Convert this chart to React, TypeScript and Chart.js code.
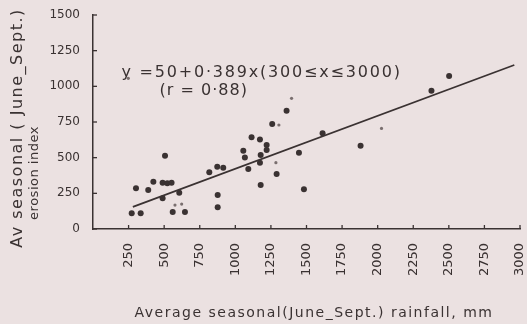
import React, { useEffect, useRef } from 'react';
import { Chart, registerables } from 'chart.js';

Chart.register(...registerables);

// ---- data ----
const xTickValues = [250, 500, 750, 1000, 1250, 1500, 1750, 2000, 2250, 2500, 2750, 3000];
const yTickValues = [0, 250, 500, 750, 1000, 1250, 1500];

const rainfall = [
  272, 335, 302, 388, 424, 506, 489, 522, 552, 489, 606, 560, 646,
  817, 873, 915, 876, 876, 1056, 1067, 1091, 1114, 1173, 1178, 1173, 1178,
  1220, 1220, 1259, 1290, 1360, 1447, 1482, 1613, 1880, 2378, 2502,
];
const erosion = [
  110, 110, 285, 273, 331, 514, 324, 320, 324, 215, 254, 119, 119,
  397, 437, 430, 238, 152, 549, 502, 420, 643, 628, 519, 465, 308,
  589, 554, 736, 385, 829, 535, 278, 671, 584, 969, 1072,
];

const faintRainfall = [248, 576, 623, 1306, 1395, 1285, 2027];
const faintErosion = [1056, 168, 175, 729, 916, 465, 705];

const lineRainfall = [280, 2960];
const lineErosion = [155, 1150];

const equationText = 'y =50+0·389x(300≤x≤3000)';
const rText = '(r = 0·88)';
const xTitle = 'Average seasonal(June_Sept.) rainfall, mm';
const yTitleLine1 = 'Av seasonal ( June_Sept.)';
const yTitleLine2 = 'erosion index';

const INK = '#3a3232';
const BG = '#ebe1e1';
const FONT = '"DejaVu Sans", sans-serif';

const decorPlugin = {
  id: 'decor',
  afterDraw(chart: any) {
    const { ctx, chartArea, scales } = chart;
    const xs = scales.x;
    const ys = scales.y;
    ctx.save();
    ctx.strokeStyle = INK;
    ctx.lineWidth = 1.3;
    // inward tick marks
    xTickValues.forEach((v) => {
      const px = xs.getPixelForValue(v);
      ctx.beginPath();
      ctx.moveTo(px, chartArea.bottom);
      ctx.lineTo(px, chartArea.bottom - 4);
      ctx.stroke();
    });
    yTickValues.forEach((v) => {
      const py = ys.getPixelForValue(v);
      ctx.beginPath();
      ctx.moveTo(chartArea.left, py);
      ctx.lineTo(chartArea.left + 4, py);
      ctx.stroke();
    });

    ctx.fillStyle = INK;
    // equation annotation
    ctx.font = `16px ${FONT}`;
    ctx.letterSpacing = '1.8px';
    ctx.textAlign = 'left';
    ctx.textBaseline = 'middle';
    ctx.fillText(equationText, xs.getPixelForValue(200), ys.getPixelForValue(1093));
    ctx.letterSpacing = '1px';
    ctx.fillText(rText, xs.getPixelForValue(468), ys.getPixelForValue(967));

    // x title
    ctx.font = `14px ${FONT}`;
    ctx.letterSpacing = '1.5px';
    ctx.textAlign = 'center';
    ctx.fillText(xTitle, 314, 313);

    // y title (rotated)
    ctx.save();
    ctx.translate(18, 128);
    ctx.rotate(-Math.PI / 2);
    ctx.font = `16px ${FONT}`;
    ctx.letterSpacing = '1.5px';
    ctx.fillText(yTitleLine1, 0, 0);
    ctx.restore();
    ctx.save();
    ctx.translate(35, 173);
    ctx.rotate(-Math.PI / 2);
    ctx.font = `13px ${FONT}`;
    ctx.letterSpacing = '0.5px';
    ctx.fillText(yTitleLine2, 0, 0);
    ctx.restore();

    ctx.restore();
  },
};

export default function App() {
  const canvasRef = useRef<HTMLCanvasElement | null>(null);

  useEffect(() => {
    document.body.style.margin = '0';
    document.body.style.background = BG;
    const canvas = canvasRef.current;
    if (!canvas) return;
    const chart = new Chart(canvas, {
      type: 'scatter',
      data: {
        datasets: [
          {
            type: 'line',
            data: lineRainfall.map((x, i) => ({ x, y: lineErosion[i] })),
            borderColor: INK,
            borderWidth: 1.7,
            pointRadius: 0,
            fill: false,
          } as any,
          {
            data: rainfall.map((x, i) => ({ x, y: erosion[i] })),
            backgroundColor: INK,
            borderColor: INK,
            pointRadius: 3,
            borderWidth: 0,
          },
          {
            data: faintRainfall.map((x, i) => ({ x, y: faintErosion[i] })),
            backgroundColor: '#7a6f6f',
            borderColor: '#7a6f6f',
            pointRadius: 1.6,
            borderWidth: 0,
          },
        ],
      },
      options: {
        animation: false,
        responsive: false,
        events: [],
        layout: { padding: { top: 15, right: 7, left: 0, bottom: 0 } },
        plugins: { legend: { display: false }, tooltip: { enabled: false } },
        scales: {
          x: {
            type: 'linear',
            min: 0,
            max: 3000,
            afterBuildTicks: (s: any) => {
              s.ticks = xTickValues.map((v) => ({ value: v }));
            },
            afterFit: (s: any) => {
              s.height = 95;
              s.paddingRight = 0;
              s.paddingLeft = 0;
            },
            grid: { display: false },
            border: { display: true, color: INK, width: 1.5 },
            ticks: {
              minRotation: 90,
              maxRotation: 90,
              autoSkip: false,
              color: INK,
              padding: 6,
              font: { family: FONT, size: 13 },
              callback: (v: any) => String(v),
            },
          },
          y: {
            type: 'linear',
            min: 0,
            max: 1500,
            afterBuildTicks: (s: any) => {
              s.ticks = yTickValues.map((v) => ({ value: v }));
            },
            afterFit: (s: any) => {
              s.width = 93;
            },
            grid: { display: false },
            border: { display: true, color: INK, width: 1.5 },
            ticks: {
              color: INK,
              padding: 5,
              font: { family: FONT, size: 12 },
              callback: (v: any) => String(v),
            },
          },
        },
      },
      plugins: [decorPlugin],
    });
    return () => chart.destroy();
  }, []);

  return (
    <div style={{ position: 'fixed', left: 0, top: 0, width: 527, height: 324, background: BG }}>
      <canvas ref={canvasRef} width={527} height={324} style={{ width: 527, height: 324 }} />
    </div>
  );
}
